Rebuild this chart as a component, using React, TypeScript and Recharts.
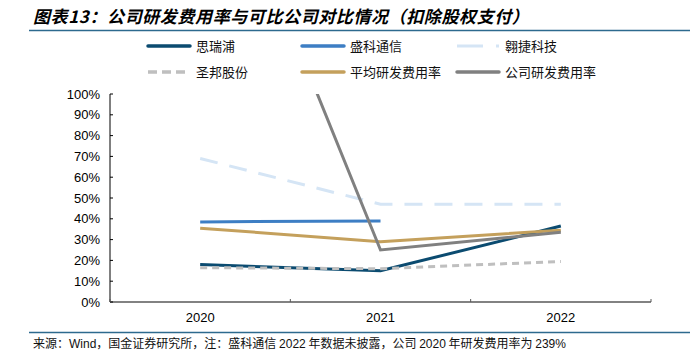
import React from 'react';
import { LineChart, Line, XAxis, YAxis } from 'recharts';

const years = ['2020', '2021', '2022'];
const siruipu = [0.18, 0.15, 0.365];
const shengke = [0.385, 0.39, null];
const aojie = [0.69, 0.47, 0.47];
const shengbang = [0.165, 0.16, 0.195];
const average = [0.355, 0.29, 0.345];
const company = [2.39, 0.25, 0.335];
const yTicks = [0, 0.1, 0.2, 0.3, 0.4, 0.5, 0.6, 0.7, 0.8, 0.9, 1.0];

const seriesNames = ['思瑞浦', '盛科通信', '翱捷科技', '圣邦股份', '平均研发费用率', '公司研发费用率'];

const data = years.map((y, i) => ({
  year: y,
  siruipu: siruipu[i],
  shengke: shengke[i],
  aojie: aojie[i],
  shengbang: shengbang[i],
  average: average[i],
  company: company[i],
}));

const W = 699;
const H = 355;
const PLOT_L = 110;
const PLOT_R = 651;
const PLOT_T = 94;
const PLOT_B = 302;
const HALF_BAND = (PLOT_R - PLOT_L) / years.length / 2;

const NUM_FONT = '"Liberation Sans", Arial, sans-serif';
const CJK_FONT = '"Noto Sans CJK SC", "Liberation Sans", sans-serif';

const COLORS = {
  siruipu: '#0b4b70',
  shengke: '#3d7ec4',
  aojie: '#d5e5f5',
  shengbang: '#bfbfbf',
  average: '#c4a05c',
  company: '#808080',
};

const XTick = (props: any) => {
  const { x, y, payload, index } = props;
  return (
    <g>
      <line x1={x - HALF_BAND} x2={x - HALF_BAND} y1={PLOT_B - 3} y2={PLOT_B} stroke="#595959" strokeWidth={1} />
      {index === years.length - 1 && (
        <line x1={x + HALF_BAND} x2={x + HALF_BAND} y1={PLOT_B - 3} y2={PLOT_B} stroke="#595959" strokeWidth={1} />
      )}
      <text x={x} y={PLOT_B + 20} textAnchor="middle" fontFamily={NUM_FONT} fontSize={13} fill="#000">
        {payload.value}
      </text>
    </g>
  );
};

const YTick = (props: any) => {
  const { y, payload } = props;
  return (
    <g>
      <line x1={PLOT_L} x2={PLOT_L + 3} y1={y} y2={y} stroke="#000" strokeWidth={1} />
      <text x={PLOT_L - 10} y={y + 4.5} textAnchor="end" fontFamily={NUM_FONT} fontSize={13} fill="#000">
        {Math.round(payload.value * 100) + '%'}
      </text>
    </g>
  );
};

const LegendItem = ({ x, y, name, color, dash, kind }: any) => {
  return (
    <g>
      {kind === 'aojie' ? (
        <line x1={x} x2={x + 43} y1={y} y2={y} stroke={color} strokeWidth={3} strokeDasharray="26 13 3 60" />
      ) : kind === 'shengbang' ? (
        <line x1={x} x2={x + 39} y1={y} y2={y} stroke={color} strokeWidth={3.5} strokeDasharray="9 5" />
      ) : (
        <line x1={x} x2={x + 42} y1={y} y2={y} stroke={color} strokeWidth={3.5} strokeLinecap="round" />
      )}
      <text x={x + 48} y={y + 4.5} fontFamily={CJK_FONT} fontSize={13} fill="#111">
        {name}
      </text>
    </g>
  );
};

export default function App() {
  const legendCols = [148, 302, 457];
  const legendRows = [46, 72];
  const legendKeys = ['siruipu', 'shengke', 'aojie', 'shengbang', 'average', 'company'];
  return (
    <div style={{ position: 'absolute', left: 0, top: 0, width: W, height: H, background: '#fff', overflow: 'hidden' }}>
      <svg width={W} height={H} style={{ position: 'absolute', left: 0, top: 0 }}>
        <text x={33} y={23} fontFamily={CJK_FONT} fontSize={17} fontWeight="bold" fontStyle="italic" fill="#000" letterSpacing={0.6}>
          图表13：公司研发费用率与可比公司对比情况（扣除股权支付）
        </text>
        <line x1={29} x2={690} y1={30.5} y2={30.5} stroke="#2d6a8e" strokeWidth={1.5} />
        {legendKeys.map((k, i) => (
          <LegendItem
            key={k}
            kind={k}
            x={legendCols[i % 3]}
            y={legendRows[Math.floor(i / 3)]}
            name={seriesNames[i]}
            color={(COLORS as any)[k]}
          />
        ))}
        <line x1={29} x2={690} y1={332.5} y2={332.5} stroke="#2d6a8e" strokeWidth={1.5} />
        <text x={33} y={348} fontFamily={CJK_FONT} fontSize={12} fill="#111">
          来源：<tspan fontFamily={NUM_FONT}>Wind</tspan>，国金证券研究所，注：盛科通信 <tspan fontFamily={NUM_FONT}>2022</tspan> 年数据未披露，公司 <tspan fontFamily={NUM_FONT}>2020</tspan> 年研发费用率为 <tspan fontFamily={NUM_FONT}>239%</tspan>
        </text>
      </svg>
      <div style={{ position: 'absolute', left: 0, top: 0 }}>
        <LineChart
          width={W}
          height={H}
          data={data}
          margin={{ top: PLOT_T, right: W - PLOT_R, bottom: H - PLOT_B - 30, left: PLOT_L - 50 }}
        >
          <YAxis
            width={50}
            domain={[0, 1]}
            allowDataOverflow
            ticks={yTicks}
            interval={0}
            tickLine={false}
            axisLine={{ stroke: '#000', strokeWidth: 1 }}
            tick={<YTick />}
          />
          <XAxis
            dataKey="year"
            scale="band"
            height={30}
            tickLine={false}
            interval={0}
            axisLine={{ stroke: '#595959', strokeWidth: 1.5 }}
            tick={<XTick />}
          />
          <Line dataKey="siruipu" stroke={COLORS.siruipu} strokeWidth={3} dot={false} isAnimationActive={false} />
          <Line dataKey="shengke" stroke={COLORS.shengke} strokeWidth={3} dot={false} isAnimationActive={false} />
          <Line dataKey="aojie" stroke={COLORS.aojie} strokeWidth={3} strokeDasharray="18 12" dot={false} isAnimationActive={false} />
          <Line dataKey="shengbang" stroke={COLORS.shengbang} strokeWidth={3} strokeDasharray="7 5" dot={false} isAnimationActive={false} />
          <Line dataKey="average" stroke={COLORS.average} strokeWidth={3} dot={false} isAnimationActive={false} />
          <Line dataKey="company" stroke={COLORS.company} strokeWidth={3} dot={false} isAnimationActive={false} />
        </LineChart>
      </div>
    </div>
  );
}
